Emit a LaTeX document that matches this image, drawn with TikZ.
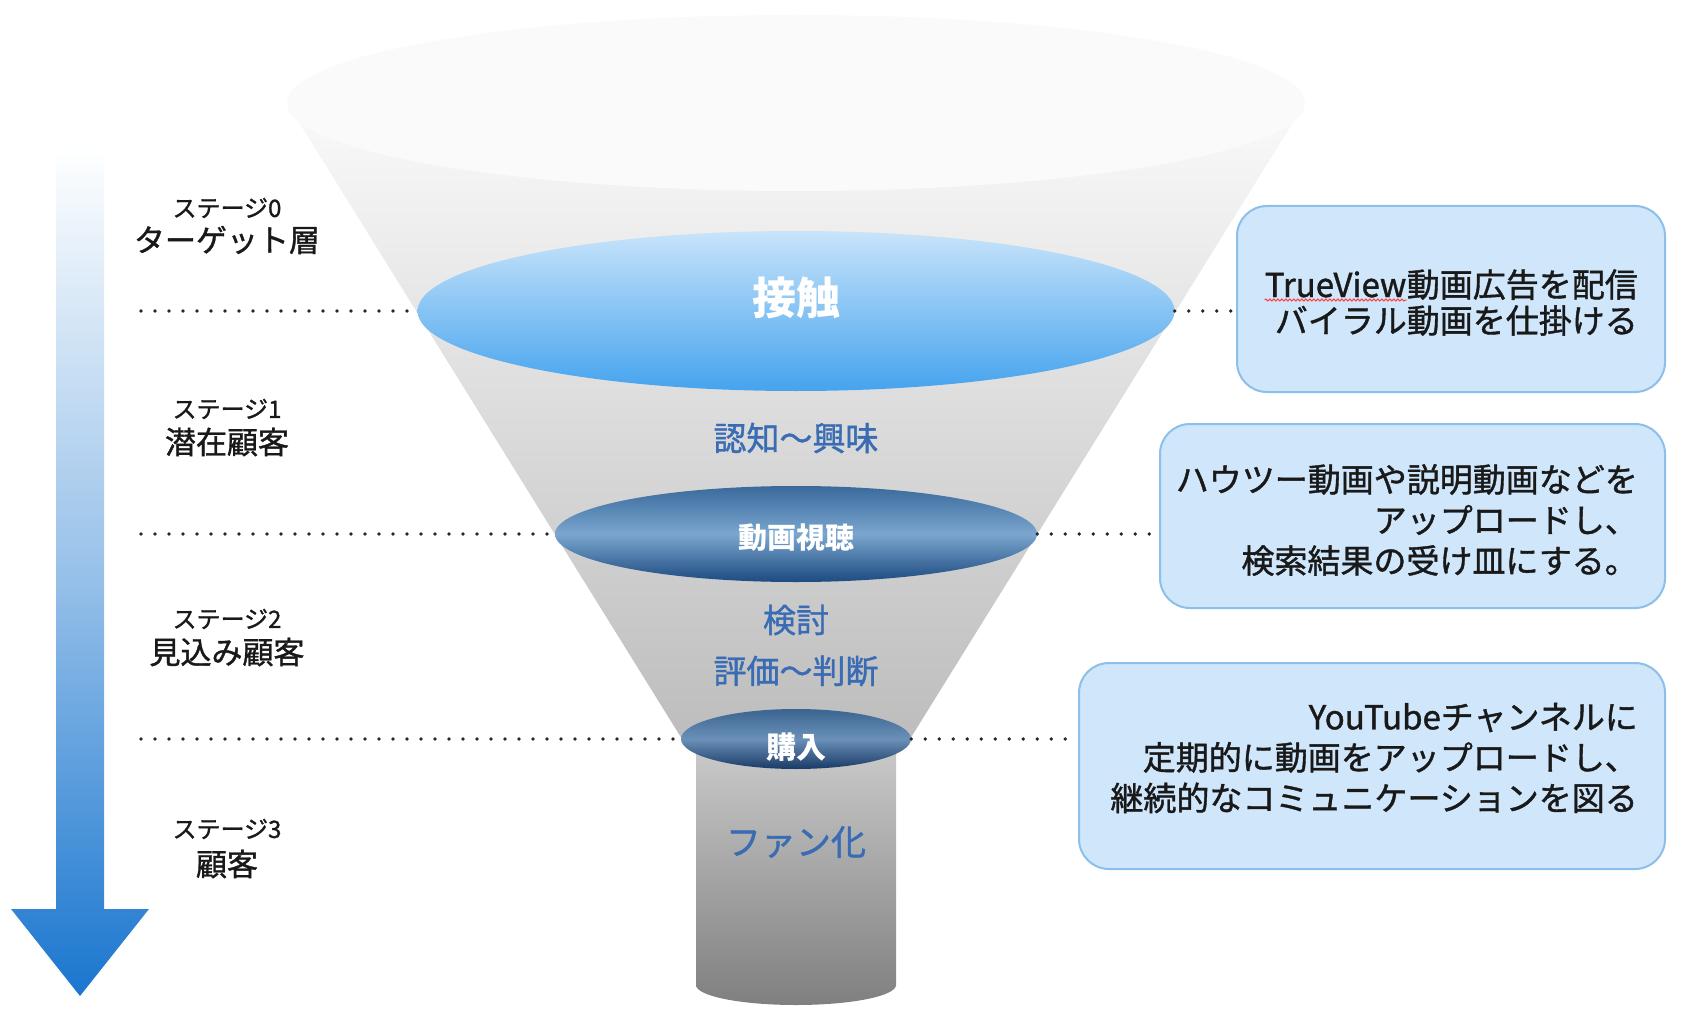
\documentclass[tikz,border=0pt]{standalone}
\usepackage{fontspec}
\setmainfont{Noto Sans CJK JP}
\newfontfamily\jpsemi{Noto Sans CJK JP}[FakeBold=1.2]
\usetikzlibrary{shapes.geometric,decorations.pathmorphing}
\definecolor{txtblue}{HTML}{3A6CB3}
\definecolor{boxfill}{HTML}{CFE6FB}
\definecolor{boxline}{HTML}{8CC0EA}
\definecolor{arrowblue}{HTML}{1A76CF}
\definecolor{touchtop}{HTML}{C8E4FA}
\definecolor{touchbot}{HTML}{45A3EE}
\definecolor{viewtop}{HTML}{3A6A9C}
\definecolor{viewmid}{HTML}{7AA6CF}
\definecolor{viewbot}{HTML}{1D4A80}
\definecolor{buytop}{HTML}{3A6590}
\definecolor{buymid}{HTML}{6A90B8}
\definecolor{buybot}{HTML}{1A3A66}
\begin{document}
\begin{tikzpicture}[x=1pt,y=-1pt,
  dotline/.style={line width=3.6pt, dash pattern=on 0pt off 14pt, line cap=round, draw=black!85},
  infobox/.style={draw=boxline, line width=2pt, fill=boxfill, rounded corners=30pt, inner sep=0pt},
  boxtxt/.style={font=\jpsemi\fontsize{33}{40.6}\selectfont, text=black!90, align=right, inner sep=0pt},
  stagesmall/.style={font=\jpsemi\fontsize{24}{26}\selectfont, text=black!90, inner sep=0pt},
  stagebig/.style={font=\jpsemi\fontsize{31}{34}\selectfont, text=black!90, inner sep=0pt},
  funneltxt/.style={font=\jpsemi\fontsize{33}{44}\selectfont, text=txtblue, align=center, inner sep=0pt},
  whitetxt/.style={text=white, inner sep=0pt}
]
\useasboundingbox (0,0) rectangle (1697,1011);
\fill[white] (0,0) rectangle (1697,1011);

% left arrow
\shade[top color=white, bottom color=arrowblue, middle color=arrowblue!45]
  (56,146) -- (104,146) -- (104,909) -- (149,909) -- (80,996) -- (11,909) -- (56,909) -- cycle;

% funnel cone
\shade[top color=black!2, bottom color=black!26]
  (287,103) -- (682,739) -- (910,739) -- (1305,103) -- cycle;
\fill[black!2] (796,103) ellipse [x radius=509, y radius=88];

% cylinder
\shade[top color=black!20, bottom color=black!50]
  (696,739) -- (696,985) arc[start angle=180, end angle=0, x radius=100, y radius=20] -- (896,739) -- cycle;

% ellipses
\node[ellipse, minimum width=757pt, minimum height=160pt, inner sep=0pt,
      top color=touchtop, bottom color=touchbot] (touch) at (796,311) {};
\node[ellipse, minimum width=482pt, minimum height=96pt, inner sep=0pt,
      top color=viewtop, bottom color=viewbot, middle color=viewmid] (view) at (796,534) {};
\node[ellipse, minimum width=230pt, minimum height=60pt, inner sep=0pt,
      top color=buytop, bottom color=buybot, middle color=buymid] (buy) at (796,739) {};

% funnel texts
\node[whitetxt, font=\fontsize{44}{50}\selectfont\bfseries] (t1) at (796,298) {接触};
\node[funneltxt] (t2) at (796,438) {認知〜興味};
\node[whitetxt, font=\fontsize{29}{32}\selectfont\bfseries] (t3) at (796,538) {動画視聴};
\node[funneltxt] (t4) at (796,620) {検討};
\node[funneltxt] (t5) at (796,671) {評価〜判断};
\node[whitetxt, font=\fontsize{30}{32}\selectfont\bfseries] (t6) at (796,747) {購入};
\node[funneltxt, font=\jpsemi\fontsize{35}{44}\selectfont] (t7) at (796,842) {ファン化};

% stage labels
\node[stagesmall] (s0a) at (227,208) {ステージ0};
\node[stagebig]   (s0b) at (227,240) {ターゲット層};
\node[stagesmall] (s1a) at (227,409) {ステージ1};
\node[stagebig]   (s1b) at (227,442) {潜在顧客};
\node[stagesmall] (s2a) at (227,619) {ステージ2};
\node[stagebig]   (s2b) at (227,652) {見込み顧客};
\node[stagesmall] (s3a) at (227,829) {ステージ3};
\node[stagebig]   (s3b) at (227,864) {顧客};

% info boxes
\node[infobox, minimum width=428pt, minimum height=186pt] (box1) at (1451,299) {};
\node[infobox, minimum width=505pt, minimum height=184pt] (box2) at (1412.5,516) {};
\node[infobox, minimum width=586pt, minimum height=206pt] (box3) at (1372,766) {};

\node[boxtxt, anchor=base east] (b1a) at (1638,297) {動画広告を配信};
\node[boxtxt, anchor=base east] (b1tv) at (b1a.base west) {TrueView};
\draw[red!75, line width=1pt, decorate, decoration={snake, amplitude=1pt, segment length=4pt}]
  ([yshift=-3pt]b1tv.base west) -- ([yshift=-3pt]b1tv.base east);
\node[boxtxt, anchor=base east] (b1b) at (1638,333) {バイラル動画を仕掛ける};
\node[boxtxt, anchor=east] (b2) at (1638,520) {ハウツー動画や説明動画などを\\アップロードし、\\検索結果の受け皿にする。};
\node[boxtxt, anchor=east] (b3) at (1638,758) {YouTubeチャンネルに\\定期的に動画をアップロードし、\\継続的なコミュニケーションを図る};

% dotted guide lines
\coordinate (g0) at (141,311);
\coordinate (g1) at (141,534);
\coordinate (g2) at (141,739);
\draw[dotline] (g0) -- (touch.west);
\draw[dotline] (g1) -- (view.west);
\draw[dotline] (g2) -- (buy.west);
\draw[dotline] (touch.east) -- (touch.east -| box1.west);
\draw[dotline] (view.east) -- (view.east -| box2.west);
\draw[dotline] (buy.east) -- (buy.east -| box3.west);
\end{tikzpicture}
\end{document}
